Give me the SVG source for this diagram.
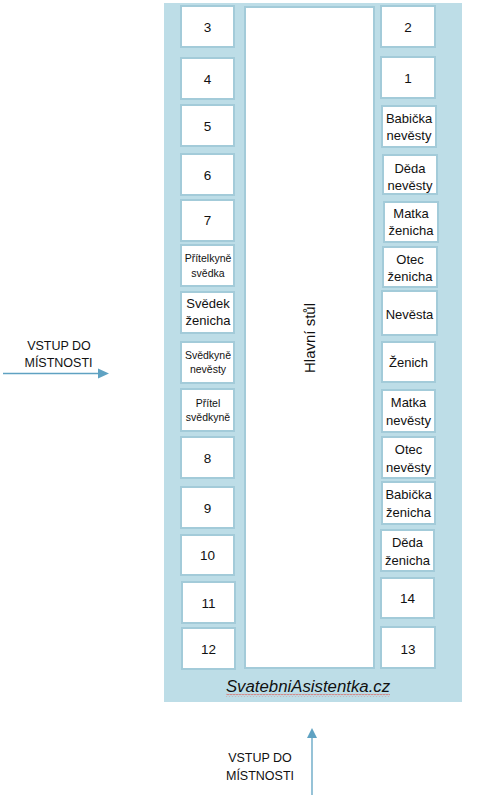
<svg xmlns="http://www.w3.org/2000/svg" width="480" height="801" viewBox="0 0 480 801">
<style>
.seat rect{fill:#ffffff;stroke:#a3cbd9;stroke-width:2}
.seat text,.lbl{font-family:"Liberation Sans",Arial,sans-serif;fill:#111;text-anchor:middle}
.n{font-size:13.5px}
.t{font-size:13px}
.s{font-size:10.5px}
.ent{font-family:"Liberation Sans",Arial,sans-serif;font-size:12.5px;fill:#111;text-anchor:middle}
.arrow{stroke:#5fa2c2;stroke-width:1.3;fill:none}
.head{fill:#5fa2c2}
</style>
<defs>
<pattern id="wave" x="0" y="0" width="3" height="3" patternUnits="userSpaceOnUse">
<path d="M0 2.3 L1.5 0.7 L3 2.3" fill="none" stroke="#e0554f" stroke-width="0.8"/>
</pattern>
</defs>
<rect id="room" x="164" y="3" width="298" height="699" fill="#bddde7"/>
<g id="main-table">
<rect x="245" y="7" width="129" height="661" fill="#ffffff" stroke="#a3cbd9" stroke-width="2"/>
<text class="lbl" transform="translate(315,338) rotate(-90)" font-size="15">Hlavní stůl</text>
</g>
<g id="left-seats">
<g class="seat" id="s3"><rect x="181" y="6" width="53" height="41"/><text class="n" x="207.5" y="32">3</text></g>
<g class="seat" id="s4"><rect x="181" y="58" width="53" height="41"/><text class="n" x="207.5" y="84">4</text></g>
<g class="seat" id="s5"><rect x="181" y="105" width="53" height="41"/><text class="n" x="207.5" y="131">5</text></g>
<g class="seat" id="s6"><rect x="181" y="154" width="53" height="41"/><text class="n" x="207.5" y="180">6</text></g>
<g class="seat" id="s7"><rect x="181" y="200" width="53" height="41"/><text class="n" x="207.5" y="225">7</text></g>
<g class="seat" id="pritelkyne-svedka"><rect x="181" y="245" width="53" height="41"/><text class="s" x="208" y="262" font-size="10.8">Přítelkyně</text><text class="s" x="208" y="277">svědka</text></g>
<g class="seat" id="svedek-zenicha"><rect x="181" y="292" width="53" height="41"/><text class="t" x="208" y="308">Svědek</text><text class="t" x="208" y="325">ženicha</text></g>
<g class="seat" id="svedkyne-nevesty"><rect x="181" y="342" width="53" height="41"/><text class="s" x="208" y="359" font-size="9.8">Svědkyně</text><text class="s" x="208" y="373" font-size="9.8">nevěsty</text></g>
<g class="seat" id="pritel-svedkyne"><rect x="181" y="389" width="53" height="42"/><text class="s" x="208" y="407" font-size="10">Přítel</text><text class="s" x="208" y="421" font-size="10">svědkyně</text></g>
<g class="seat" id="s8"><rect x="181" y="437" width="53" height="41"/><text class="n" x="207.5" y="463">8</text></g>
<g class="seat" id="s9"><rect x="181" y="487" width="53" height="41"/><text class="n" x="207.5" y="513">9</text></g>
<g class="seat" id="s10"><rect x="181" y="535" width="53" height="40"/><text class="n" x="207.5" y="560">10</text></g>
<g class="seat" id="s11"><rect x="182" y="582" width="53" height="41"/><text class="n" x="208.5" y="608">11</text></g>
<g class="seat" id="s12"><rect x="182" y="628" width="53" height="41"/><text class="n" x="208.5" y="654">12</text></g>
</g>
<g id="right-seats">
<g class="seat" id="s2"><rect x="381" y="6" width="54" height="41"/><text class="n" x="408" y="32">2</text></g>
<g class="seat" id="s1"><rect x="381" y="57" width="54" height="41"/><text class="n" x="408" y="83">1</text></g>
<g class="seat" id="babicka-nevesty"><rect x="382" y="106" width="54" height="41"/><text class="t" x="409" y="123">Babička</text><text class="t" x="409" y="140">nevěsty</text></g>
<g class="seat" id="deda-nevesty"><rect x="383" y="155" width="54" height="39"/><text class="t" x="410" y="173">Děda</text><text class="t" x="410" y="190">nevěsty</text></g>
<g class="seat" id="matka-zenicha"><rect x="384" y="202" width="54" height="40"/><text class="t" x="411" y="218">Matka</text><text class="t" x="411" y="235">ženicha</text></g>
<g class="seat" id="otec-zenicha"><rect x="383" y="247" width="54" height="40"/><text class="t" x="410" y="264">Otec</text><text class="t" x="410" y="281">ženicha</text></g>
<g class="seat" id="nevesta"><rect x="382" y="291" width="55" height="44"/><text class="t" x="409.5" y="319">Nevěsta</text></g>
<g class="seat" id="zenich"><rect x="382" y="342" width="53" height="40"/><text class="t" x="408.5" y="367">Ženich</text></g>
<g class="seat" id="matka-nevesty"><rect x="382" y="390" width="53" height="42"/><text class="t" x="408.5" y="407">Matka</text><text class="t" x="408.5" y="425">nevěsty</text></g>
<g class="seat" id="otec-nevesty"><rect x="382" y="437" width="53" height="41"/><text class="t" x="408.5" y="454">Otec</text><text class="t" x="408.5" y="472">nevěsty</text></g>
<g class="seat" id="babicka-zenicha"><rect x="382" y="482" width="53" height="42"/><text class="t" x="408.5" y="499">Babička</text><text class="t" x="408.5" y="517">ženicha</text></g>
<g class="seat" id="deda-zenicha"><rect x="381" y="530" width="53" height="41"/><text class="t" x="407.5" y="547">Děda</text><text class="t" x="407.5" y="565">ženicha</text></g>
<g class="seat" id="s14"><rect x="381" y="578" width="53" height="40"/><text class="n" x="407.5" y="603">14</text></g>
<g class="seat" id="s13"><rect x="381" y="627" width="54" height="41"/><text class="n" x="408" y="654">13</text></g>
</g>
<g id="watermark">
<text x="308" y="692" font-family="Liberation Sans,Arial,sans-serif" font-style="italic" font-size="16.8" fill="#111" text-anchor="middle">SvatebniAsistentka.cz</text>
<rect x="226" y="693.8" width="164" height="3" fill="url(#wave)"/>
</g>
<g id="connectors">
<line class="arrow" x1="3" y1="373.5" x2="100" y2="373.5"/>
<polygon class="head" points="109,373.5 98,368.5 98,378.5"/>
<line class="arrow" x1="312" y1="795" x2="312" y2="736"/>
<polygon class="head" points="312,728 307,738 317,738"/>
</g>
<g id="entrance-left">
<text class="ent" x="59" y="350">VSTUP DO</text>
<text class="ent" x="58.5" y="367">MÍSTNOSTI</text>
</g>
<g id="entrance-bottom">
<text class="ent" x="260" y="762">VSTUP DO</text>
<text class="ent" x="260" y="780">MÍSTNOSTI</text>
</g>
</svg>
